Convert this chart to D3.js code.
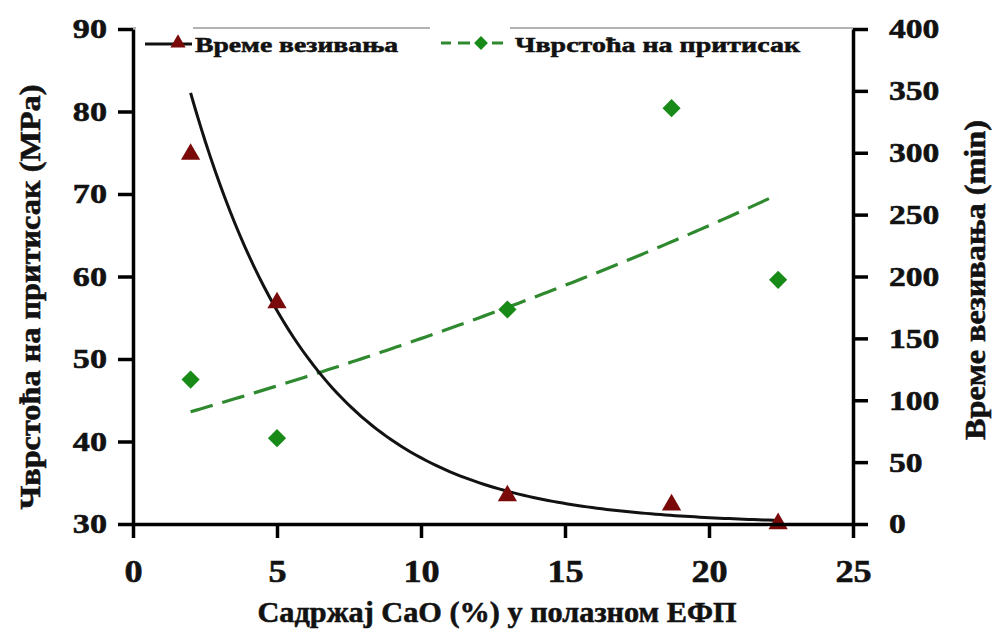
<!DOCTYPE html>
<html>
<head>
<meta charset="utf-8">
<script src="https://cdn.jsdelivr.net/npm/d3@7"></script>
<style>
  html, body { margin: 0; padding: 0; background: #fff; }
  svg { display: block; }
</style>
</head>
<body>
<svg id="chart" width="992" height="633"></svg>
<script>
// CaO content of the starting fly ash (%)
const caoContent = [2, 5, 13, 18.7, 22.4];
// Setting time (min), right axis
const settingTime = [300, 180, 24, 16.7, 1.5];
// Compressive strength (MPa), left axis
const strength = [47.5, 40.4, 56, 80.4, 59.6];

const xTicks = [0, 5, 10, 15, 20, 25];
const leftTicks = [30, 40, 50, 60, 70, 80, 90];
const rightTicks = [0, 50, 100, 150, 200, 250, 300, 350, 400];

const seriesNames = ["Време везивања", "Чврстоћа на притисак"];
const xTitle = "Садржај CaO (%) у полазном ЕФП";
const leftTitle = "Чврстоћа на притисак (MPa)";
const rightTitle = "Време везивања (min)";

const FONT = "'Liberation Serif', 'Times New Roman', serif";
const INK = "#121212";
const RED = "#7a0a0a";
const GREEN = "#178a17";
const GREEN_LINE = "#2f8a2f";

const svg = d3.select("#chart");
const plot = { left: 133, right: 853, top: 29, bottom: 524 };

const x = d3.scaleLinear().domain([0, 25]).range([plot.left, plot.right]);
const yL = d3.scaleLinear().domain([30, 90]).range([plot.bottom, plot.top]);
const yR = d3.scaleLinear().domain([0, 400]).range([plot.bottom, plot.top]);

// bold serif text with a touch of extra weight
function ink(sel, size) {
  sel.style("font-family", FONT).style("font-weight", "bold").style("font-size", size + "px")
    .attr("fill", INK).attr("stroke", INK).attr("stroke-width", 0.55);
}
// widen glyphs horizontally by a given factor
function stretch(sel, k) {
  sel.each(function () {
    const w = this.getComputedTextLength();
    d3.select(this).attr("textLength", w * k).attr("lengthAdjust", "spacingAndGlyphs");
  });
}
function fitTo(sel, w) {
  sel.attr("textLength", w).attr("lengthAdjust", "spacingAndGlyphs");
}

// exponential trendline y = a·e^(b·x), least squares on ln(y)
function expFit(xs, ys) {
  const ly = ys.map(Math.log);
  const mx = d3.mean(xs), my = d3.mean(ly);
  let sxy = 0, sxx = 0;
  xs.forEach((v, i) => { sxy += (v - mx) * (ly[i] - my); sxx += (v - mx) * (v - mx); });
  const b = sxy / sxx;
  const a = Math.exp(my - b * mx);
  return xv => a * Math.exp(b * xv);
}
function trendPoints(xs, ys) {
  const f = expFit(xs, ys);
  const [x0, x1] = d3.extent(xs);
  return d3.range(0, 121).map(i => {
    const xv = x0 + (x1 - x0) * i / 120;
    return [xv, f(xv)];
  });
}

// top frame
svg.append("line")
  .attr("x1", plot.left).attr("x2", plot.right)
  .attr("y1", plot.top - 1).attr("y2", plot.top - 1)
  .attr("stroke", "#9a9a9a").attr("stroke-width", 1.5);

// trendlines
const timeTrend = trendPoints(caoContent, settingTime);
const strengthTrend = trendPoints(caoContent, strength);

svg.append("path")
  .datum(strengthTrend)
  .attr("fill", "none").attr("stroke", GREEN_LINE).attr("stroke-width", 3.2)
  .attr("stroke-dasharray", "23,10")
  .attr("d", d3.line().x(d => x(d[0])).y(d => yL(d[1])));

svg.append("path")
  .datum(timeTrend)
  .attr("fill", "none").attr("stroke", INK).attr("stroke-width", 3)
  .attr("d", d3.line().x(d => x(d[0])).y(d => yR(d[1])));

// points
const tri = d3.symbol().type(d3.symbolTriangle).size(160);
const dia = d3.symbol().type(d3.symbolSquare).size(165);

svg.append("g").selectAll("path")
  .data(caoContent.map((c, i) => [c, settingTime[i]]))
  .join("path")
  .attr("d", tri)
  .attr("fill", RED)
  .attr("transform", d => `translate(${x(d[0])},${yR(d[1]) + 1.5})`);

svg.append("g").selectAll("path")
  .data(caoContent.map((c, i) => [c, strength[i]]))
  .join("path")
  .attr("d", dia)
  .attr("fill", GREEN)
  .attr("transform", d => `translate(${x(d[0])},${yL(d[1])}) rotate(45)`);

// axes
const axisLines = g => {
  g.select(".domain").attr("stroke", "#000").attr("stroke-width", 3.5);
  g.selectAll(".tick line").attr("stroke", "#000").attr("stroke-width", 3.5);
};

const gx = svg.append("g").attr("transform", `translate(0,${plot.bottom})`)
  .call(d3.axisBottom(x).tickValues(xTicks).tickSize(14).tickSizeOuter(0).tickFormat(d3.format("d")))
  .call(axisLines);
gx.selectAll("text").attr("y", 58).attr("dy", 0).call(ink, 31).call(stretch, 1.17);

const gl = svg.append("g").attr("transform", `translate(${plot.left},0)`)
  .call(d3.axisLeft(yL).tickValues(leftTicks).tickSize(15).tickSizeOuter(0).tickPadding(11).tickFormat(d3.format("d")))
  .call(axisLines);
gl.selectAll("text").call(ink, 28).call(stretch, 1.22);

const gr = svg.append("g").attr("transform", `translate(${plot.right},0)`)
  .call(d3.axisRight(yR).tickValues(rightTicks).tickSize(15).tickSizeOuter(0).tickPadding(21).tickFormat(d3.format("d")))
  .call(axisLines);
gr.selectAll("text").call(ink, 28).call(stretch, 1.2);

// axis titles
svg.append("text")
  .attr("x", 497).attr("y", 622).attr("text-anchor", "middle")
  .text(xTitle).call(ink, 29).call(fitTo, 479);

svg.append("text")
  .attr("transform", "translate(40,297) rotate(-90)").attr("text-anchor", "middle")
  .text(leftTitle).call(ink, 29).call(fitTo, 425);

svg.append("text")
  .attr("transform", "translate(985,280) rotate(-90)").attr("text-anchor", "middle")
  .text(rightTitle).call(ink, 29).call(fitTo, 320);

// legend
const leg = svg.append("g");
leg.append("rect").attr("x", 136).attr("y", 20).attr("width", 57).attr("height", 40).attr("fill", "#fff");
leg.append("rect").attr("x", 430).attr("y", 20).attr("width", 80).attr("height", 40).attr("fill", "#fff");

leg.append("line").attr("x1", 145).attr("x2", 192).attr("y1", 44).attr("y2", 44)
  .attr("stroke", INK).attr("stroke-width", 3);
leg.append("path").attr("d", d3.symbol().type(d3.symbolTriangle).size(100))
  .attr("fill", RED).attr("transform", "translate(178,43)");
leg.append("text").attr("x", 195).attr("y", 52)
  .text(seriesNames[0]).call(ink, 22).call(fitTo, 203);

leg.append("line").attr("x1", 441).attr("x2", 504).attr("y1", 43).attr("y2", 43)
  .attr("stroke", GREEN_LINE).attr("stroke-width", 3.2).attr("stroke-dasharray", "10,7,12,22,11,100");
leg.append("path").attr("d", d3.symbol().type(d3.symbolSquare).size(95))
  .attr("fill", GREEN).attr("transform", "translate(481,43) rotate(45)");
leg.append("text").attr("x", 515).attr("y", 52)
  .text(seriesNames[1]).call(ink, 22).call(fitTo, 285);
</script>
</body>
</html>
